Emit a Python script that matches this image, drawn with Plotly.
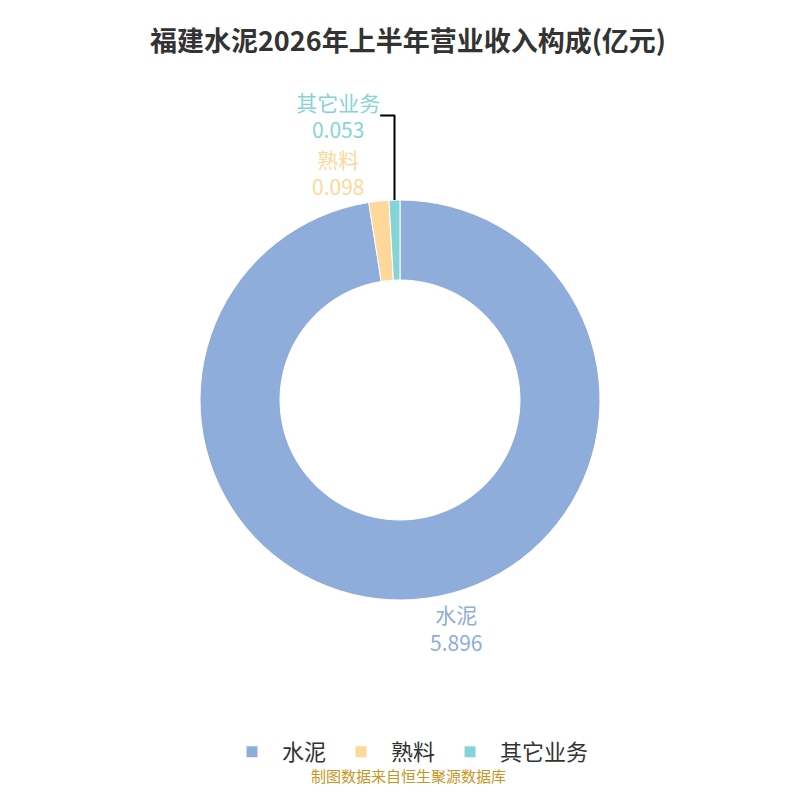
import plotly.graph_objects as go

labels = ["水泥", "熟料", "其它业务"]
values = [5.896, 0.098, 0.053]
colors = ["#8eaddb", "#fdd89a", "#86d4d6"]

fig = go.Figure(go.Pie(
    labels=labels, values=values, hole=0.6, sort=False, direction="clockwise",
    rotation=0,
    marker=dict(colors=colors, line=dict(color="white", width=1)),
    texttemplate="%{label}<br>%{value}", textposition="outside",
    textfont=dict(size=21, color=colors),
    domain=dict(x=[0.24, 0.74], y=[0.26, 0.76]),
    hoverinfo="label+value+percent",
))

fig.update_layout(
    width=800, height=800,
    margin=dict(l=0, r=0, t=0, b=0),
    paper_bgcolor="white",
    font=dict(family="Noto Sans CJK SC"),
    title=dict(text="<b>福建水泥2026年上半年营业收入构成(亿元)</b>", x=0.5, y=0.97,
               xanchor="center", font=dict(size=27, color="#333333")),
    legend=dict(orientation="h", x=0.5, xanchor="center", y=0.07, yanchor="middle",
                font=dict(size=22, color="#333333"), itemwidth=50),
    annotations=[dict(text="制图数据来自恒生聚源数据库", x=0.5, y=0.025, xref="paper", yref="paper",
                      showarrow=False, font=dict(size=15, color="#c8961e"))],
)

fig.write_html("out.html")
